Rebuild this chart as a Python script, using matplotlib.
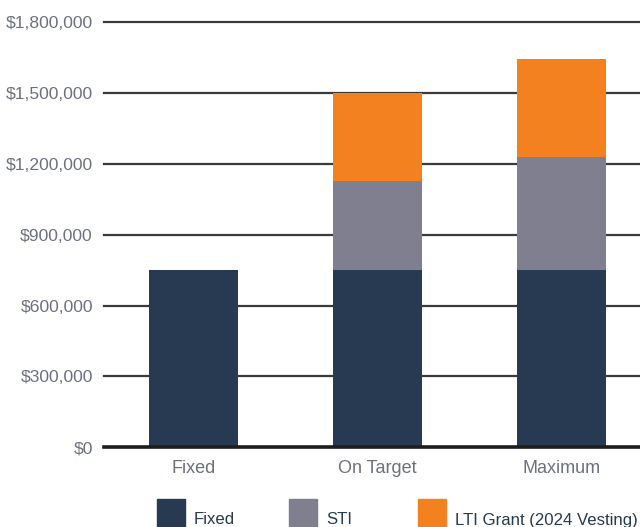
import matplotlib
matplotlib.use("Agg")
import matplotlib.pyplot as plt
from matplotlib.patches import Rectangle

categories = ["Fixed", "On Target", "Maximum"]
fixed = [750000, 750000, 750000]
sti = [0, 375000, 480000]
lti = [0, 375000, 415000]
series_names = ["Fixed", "STI", "LTI Grant (2024 Vesting)"]
colors = ["#283a52", "#7f7f8f", "#f48120"]
yticks = [0, 300000, 600000, 900000, 1200000, 1500000, 1800000]
ytick_labels = ["$0", "$300,000", "$600,000", "$900,000", "$1,200,000", "$1,500,000", "$1,800,000"]

plt.rcParams['font.family'] = ['Liberation Sans', 'DejaVu Sans']
W, H = 640, 527
fig = plt.figure(figsize=(W/100, H/100), dpi=100)
ax = fig.add_axes([104/W, (H-447.3)/H, (640-104)/W, (447.3-22)/H])

x = list(range(len(categories)))
bw = 0.484
ax.bar(x, fixed, width=bw, color=colors[0], zorder=3)
ax.bar(x, sti, width=bw, bottom=fixed, color=colors[1], zorder=3)
bot2 = [a + b for a, b in zip(fixed, sti)]
ax.bar(x, lti, width=bw, bottom=bot2, color=colors[2], zorder=3)

ax.set_xlim(-0.486, 2.427)
ax.set_ylim(0, 1800000)
ax.set_yticks(yticks)
ax.set_yticklabels(ytick_labels)
ax.set_xticks(x)
ax.set_xticklabels(categories)
for y in yticks[1:]:
    ax.axhline(y, color="#3a3a3a", lw=1.6, zorder=1, clip_on=False)
ax.axhline(0, color="#1e1e1e", lw=2.6, zorder=4, clip_on=False)
for s in ax.spines.values():
    s.set_visible(False)
ax.tick_params(axis='both', length=0, colors="#6d7080")
ax.tick_params(axis='y', pad=8, labelsize=12.6)
ax.tick_params(axis='x', pad=9, labelsize=13)

# legend
leg = [(157, "Fixed"), (289, "STI"), (418, "LTI Grant (2024 Vesting)")]
for (lx, name), c in zip(leg, colors):
    fig.add_artist(Rectangle((lx/W, (H-527-6)/H), 28/W, 34/H, transform=fig.transFigure,
                             color=c, clip_on=False))
    fig.text((lx+37)/W, (H-520)/H, name, color="#283a52", fontsize=12.1, va='center', ha='left')

fig.savefig("out.png", dpi=100)
